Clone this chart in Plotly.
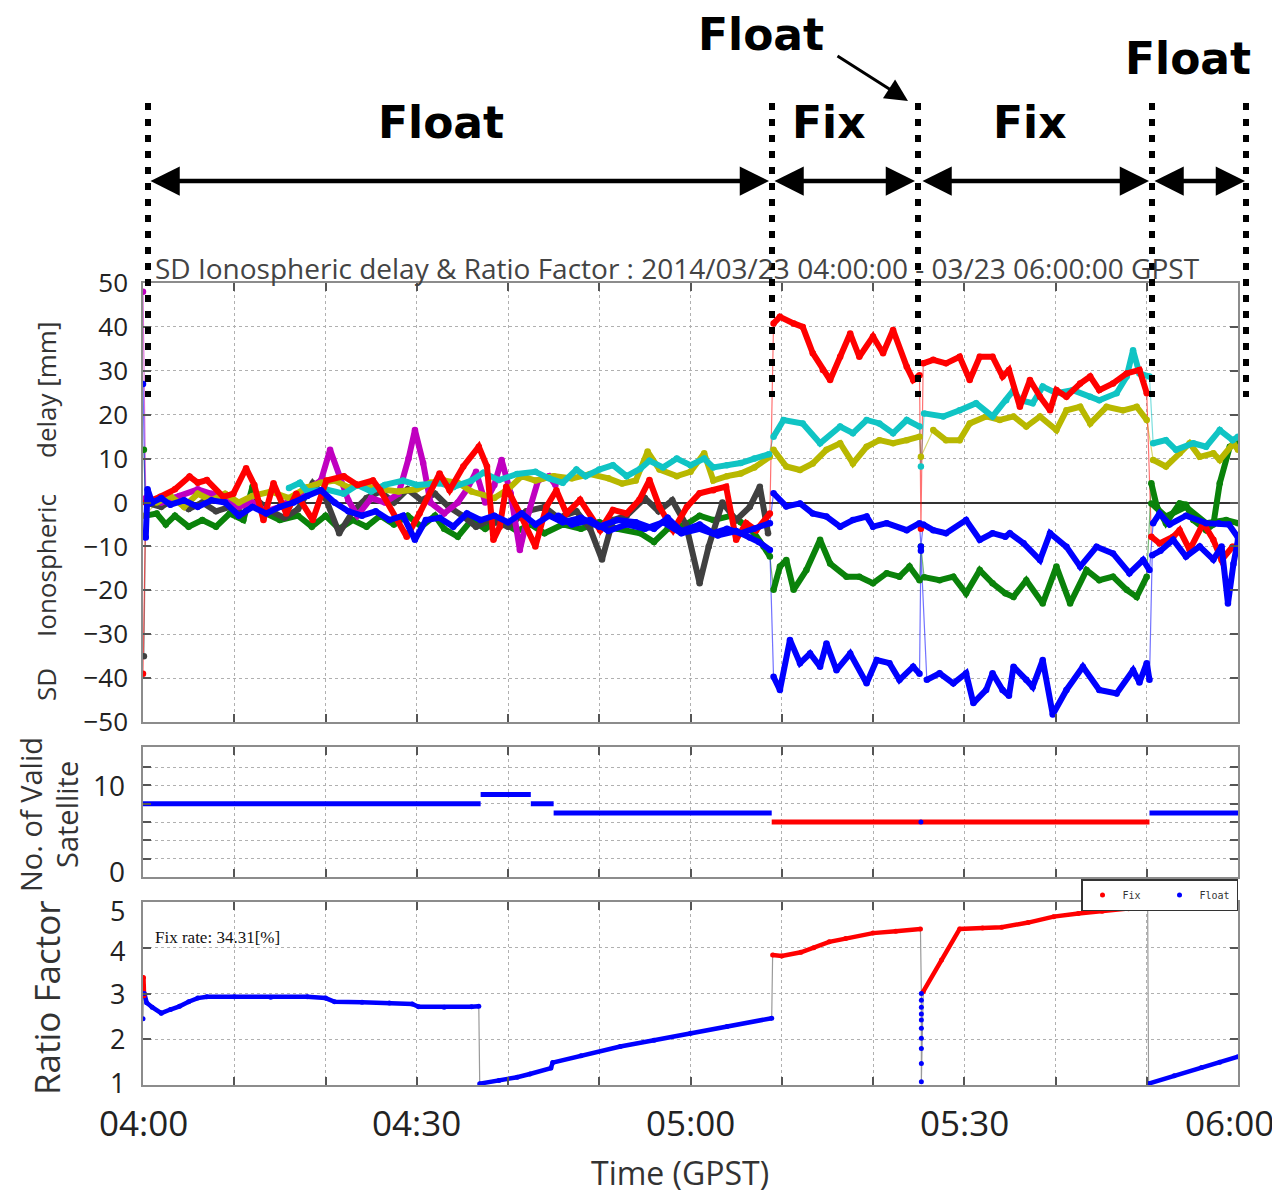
import plotly.graph_objects as go

# ---------------- data (time = minutes after 04:00 GPST) ----------------
RED_T = [0.0, 0.3, 1.9, 3.5, 5.1, 6.0, 7.0, 8.8, 9.9, 11.3, 12.2, 13.2, 14.3, 15.7, 16.8, 18.6, 20.1, 22.0, 23.5, 25.2,
         26.0, 28.9, 30.3, 32.5, 33.6, 35.1, 36.8, 37.7, 38.4, 39.1, 39.8, 41.3, 43.0, 44.2, 45.3, 46.4, 47.9, 50.1,
         51.5, 53.0, 54.4, 55.5, 56.6, 58.1, 59.6, 61.0, 62.5, 63.9, 65.0, 66.1, 67.2, 68.7,
         69.1, 69.8, 71.3, 72.3, 73.4, 74.5, 75.3, 76.4, 77.5, 78.5, 80.0, 81.1, 82.2, 83.7, 84.4, 85.1,
         85.25,
         85.5, 86.6, 88.0, 89.5, 90.6, 91.7, 93.1, 94.2, 94.9, 96.1, 97.2, 98.3, 99.4, 100.1, 101.2, 102.7, 103.8,
         104.8, 106.3, 107.8, 109.2, 110.0,
         110.5, 111.4, 112.9, 113.6, 114.7, 116.2, 117.3, 118.2, 119.4, 120.0]
RED_V = [-39, 0, 1.3, 3, 5.9, 4.5, 5.1, 1.3, 2, 7.8, 4, -4, 4.4, -2.5, 2, -4, 5, 6, 4, 5,
         2.8, -7.8, -2.5, 6.6, 2.8, 8.2, 12.7, 8.2, -8.5, -5.5, 3.6, -2.5, -10, -1, 2.8, -2.5, 0.6, -6.3,
         -1.7, -2.5, 0.6, 5.1, -1, -6.3, -1, 2.1, 2.8, 3.6, -8.5, -4.7, -6.3, -2.5,
         40.8, 42.3, 40.8, 40, 34, 30.2, 27.9, 33.2, 38.5, 33.2, 37.8, 34, 39.3, 30.9, 27.9, 29,
         -6,
         31.7, 32.5, 31.7, 33.2, 27.9, 33.2, 33.2, 28.7, 30.2, 21.8, 27.9, 24.1, 21, 25.6, 24.1, 27.1, 28.7,
         25.6, 27.1, 29.4, 30.2, 24.9,
         -7.8, -9.3, -7.8, -6.3, -10.8, -4.7, -8.5, -13.1, -10.1, -10.1]

CYAN_T = [16.0, 17.2, 18.0, 20.0, 22.0, 23.5, 25.0, 26.5, 28.5, 30.0, 32.5, 34.0, 36.0, 37.3, 39.0, 41.0, 43.0, 44.5,
          46.0, 47.5, 48.5, 50.0, 51.5, 53.0, 54.5, 55.5, 57.0, 58.5, 60.0, 61.5, 62.5, 64.0, 65.5, 67.0, 68.6,
          69.1, 70.2, 72.3, 74.2, 76.4, 77.8, 79.3, 80.7, 82.2, 83.7, 85.1,
          85.25,
          85.6, 87.7, 89.5, 91.3, 93.1, 94.6, 95.4, 96.1, 97.5, 98.6, 100.1, 101.9, 103.8, 104.8, 106.7, 107.8,
          108.5, 109.2, 110.3,
          110.7, 112.1, 113.2, 115.1, 116.5, 118.0, 119.4, 120.0]
CYAN_V = [3.3, 4.5, 2.5, 3, 2, 4, 2.5, 4, 5, 4, 4.4, 3.5, 5, 6.8, 5.1, 6.5, 7, 5.5,
          4.5, 7.5, 6, 7.5, 8.5, 6, 7.7, 9.5, 8, 10, 8.5, 10, 8, 8.5, 9, 10, 11,
          15, 18.8, 18, 13.5, 17.3, 15.8, 18.8, 18, 15.8, 18.8, 17.3,
          8.2,
          20.3, 19.6, 21, 22.6, 19.6, 23.3, 25.6, 23.3, 22.6, 26.4, 24.9, 25.6, 24.1, 23.3, 24.9, 28.7,
          34.7, 29.4, 28.7,
          13.5, 14.2, 12, 13.5, 12.7, 16.5, 14.2, 15]

YELLOW_T = [0.2, 1.5, 3.0, 4.5, 6.0, 7.5, 9.0, 10.5, 12.0, 14.0, 16.0, 18.0, 19.5, 21.0, 22.5, 24.0, 26.0, 28.0, 30.0,
            31.5, 33.0, 34.5, 36.0, 38.5, 40.0, 41.5, 43.0, 45.0, 47.0, 49.0, 51.0, 52.5, 54.0, 55.3, 56.6, 58.5,
            60.0, 61.5, 62.5, 64.0, 65.5, 67.0, 68.7,
            69.1, 70.5, 72.0, 73.4, 74.9, 76.4, 77.8, 79.3, 80.7, 82.2, 83.7, 85.1,
            85.25,
            86.6, 88.0, 89.5, 90.6, 92.4, 93.9, 95.4, 96.8, 98.3, 100.1, 101.2, 102.7, 103.8, 105.6, 107.4, 108.9, 110.0,
            110.7, 112.1, 113.6, 114.7, 115.8, 117.3, 118.0, 119.5, 120.0]
YELLOW_V = [-3, 0, 1.5, -1, 2, 0.5, 2, 0, 1.5, 2.5, 1, 3.5, 4.5, 5, 3.5, 4, 3, 2.5, 3,
            4.5, 5, 4.5, 2.5, 1, 3, 6, 5, 6, 5.5, 6.5, 5.5, 4.3, 5, 11.6, 7.5, 6,
            7, 11.2, 5, 6, 6.6, 8, 10.4,
            12, 8.2, 7.4, 8.9, 12, 13.5, 8.9, 12.7, 14.2, 13.5, 14.2, 15,
            10.4,
            16.5, 14.2, 14.2, 18, 19.6, 18.8, 19.6, 17.3, 19.6, 16.5, 21, 21.8, 18, 21.8, 21, 21.8, 18.8,
            9.7, 8.2, 11.2, 13.5, 10.4, 11.2, 9.7, 13.5, 12]

GREEN_T = [0.1, 0.3, 1.5, 2.5, 3.5, 5.0, 6.5, 8.0, 9.5, 11.0, 12.0, 13.0, 15.0, 17.0, 18.5, 20.0, 21.5, 23.0, 24.5,
           26.0, 27.5, 29.0, 30.5, 32.0, 33.0, 34.5, 36.0, 37.5, 39.0, 41.0, 42.5, 44.0, 46.0, 48.0, 50.0, 52.0,
           54.5, 56.0, 57.5, 59.5, 61.0, 62.5, 64.5, 65.5, 67.0, 68.0, 68.7,
           69.1, 69.8, 70.5, 71.3, 72.7, 74.2, 75.3, 77.1, 78.5, 80.0, 81.5, 82.9, 84.0, 85.1,
           85.25,
           85.6, 87.3, 88.8, 90.2, 91.7, 93.1, 94.5, 95.4, 96.8, 98.6, 100.1, 101.6, 103.4, 104.8, 106.3, 107.8,
           108.9, 110.0,
           110.5, 111.1, 112.1, 113.6, 114.3, 115.1, 116.5, 117.3, 118.0, 119.1, 119.8]
GREEN_V = [12, -3, -2.5, -5, -3, -5.5, -4, -5.5, -2.5, -4, 3.6, -2, -4, -3, -5.5, -3, -6, -4, -5.5,
           -3, -5, -3, -5.5, -3, -6, -7.8, -4, -6, -4, -6.5, -5, -7, -5, -6, -4.5, -6,
           -7, -9, -6, -5, -3, -4, -3, -4.5, -7, -10, -12.3,
           -19.9, -14.6, -13.1, -19.9, -15.4, -8.5, -13.9, -16.9, -16.9, -18.4, -16.1, -16.9, -14.6, -17.7,
           -10,
           -17, -17.7, -16.9, -20.7, -15.4, -18.4, -20.7, -21.5, -17.7, -23, -14.6, -23, -15.4, -17.7, -16.9, -19.9,
           -21.5, -16.9,
           4.4, -0.9, -4.7, -0.2, -0.5, -4, -6.3, -5, 4.4, 12.7, 13.5]

GREEN2_T = [110.5, 112.1, 114.3, 116.5, 118.7, 120.0]
GREEN2_V = [-0.2, -3.2, -1, -4.7, -4, -4.7]

GRAY_T = [0.1, 0.3, 2.0, 3.5, 5.0, 6.5, 8.0, 9.5, 11.0, 12.5, 14.0, 15.5, 17.0, 18.6, 20.0, 21.5, 23.0, 24.5, 26.0,
          27.5, 29.0, 30.5, 32.0, 33.5, 35.0, 36.5, 38.0, 40.0, 42.0, 44.0, 45.5, 47.5, 49.0, 50.3, 51.5, 53.0,
          55.0, 56.5, 58.0, 59.5, 61.0, 62.0, 63.5, 65.0, 66.5, 67.6, 68.5]
GRAY_V = [-35, 0, -1, 1, -1.5, 0, -2, -1, -2.5, 0.5, -2, -3.5, -1.5, 4.4, 1, -7, -2, 1, 2.5,
          0, 3, 0.5, 2, -1, -3, -5.5, -4, -5.5, -2, -1, -3.5, -2, -6, -13, -4, -3,
          1, -2, 0.5, -5, -18.4, -10, 0, -4, -1, 3.6, -7]

MAGENTA_T = [0.0, 0.3, 2.0, 4.0, 6.0, 7.5, 9.0, 10.5, 12.0, 13.5, 15.0, 16.5, 18.0, 19.5, 20.5, 21.5, 22.5, 23.5,
             25.0, 26.5, 28.0, 29.1, 29.8, 30.7, 31.5, 33.0, 34.5, 35.5, 36.5, 37.5, 38.5, 39.3, 40.3, 41.3, 42.3,
             43.3, 44.5, 45.2]
MAGENTA_V = [48, 1, 0, 1.5, 3, 2, 0.5, -1, 0, -2, -1, 1, 3, 5, 12, 6, 0.5, -3,
             1, 0, 2, 10, 16.5, 9, 0, -2.5, 0, 3, 7, 0, 4, 9.7, 2, -10.8, -2,
             5, 6, 4]

BLUE1_T = [0.0, 0.3, 0.5, 1.0, 2.0, 3.0, 4.5, 6.0, 7.5, 9.0, 10.5, 12.0, 13.5, 15.0, 16.5, 18.0, 19.5, 21.0, 22.5,
           24.0, 25.5, 27.0, 28.5, 29.8, 31.0, 32.5, 34.0, 35.5, 37.0, 38.5, 40.0, 41.5, 43.0, 44.5, 46.0, 48.0,
           50.0, 52.0, 54.0, 56.0, 57.5, 59.0, 61.0, 62.5, 64.0, 65.5, 67.0, 68.7,
           69.1, 70.5, 72.0, 73.4, 74.9, 76.4, 77.8, 79.3, 80.0, 81.5, 83.7, 85.1,
           85.25,
           85.5, 86.6, 88.0, 90.2, 91.7, 93.1, 94.5, 95.0, 96.5, 98.3, 99.4, 101.2, 102.7, 104.5, 106.3, 108.1,
           109.6, 110.3,
           110.7, 111.4, 112.5, 114.3, 116.5, 117.9, 119.0, 120.0]
BLUE1_V = [27, -8, 3, 0, 1, -0.5, 0.5, -1, 0.5, 0, -3, -1, -2.5, -1, 0, 1.5, 2.8, 0, -2,
           -3, -2, -4, -3, -8.5, -4, -3.5, -5.5, -2.5, -4, -3, -4.5, -2.5, -5, -3, -4.5, -3.5,
           -5.5, -4, -4.5, -6, -3.5, -6.5, -5, -7, -6, -7, -6, -4.7,
           2.1, -0.9, -0.2, -2.5, -3.2, -5.5, -4, -3.2, -5.5, -4.7, -6.3, -4.7,
           -10,
           -5, -6.3, -7, -4, -8.5, -7, -7.8, -7, -9.3, -13.1, -7, -10.1, -14.6, -10.1, -11.6, -16.1,
           -13.1, -15.4,
           -4.7, -2.5, -5, -3, -4.7, -4.7, -5, -8]

BLUE2_T = [45.5, 47.0, 49.0, 51.0, 53.0, 55.0, 57.0, 59.0, 61.0, 63.0, 65.0, 66.5, 67.5, 68.7,
           69.1, 69.8, 70.9, 72.0, 73.1, 74.2, 74.9, 76.0, 77.5, 79.3, 80.4, 81.8, 82.9, 84.4, 85.1,
           85.25,
           85.9, 87.3, 88.8, 90.2, 91.0, 92.4, 93.1, 94.2, 94.9, 95.4, 96.8, 97.5, 98.6, 99.7, 101.2, 103.0,
           104.8, 106.7, 108.5, 109.2, 110.0, 110.3,
           110.6, 111.5, 112.9, 114.3, 115.8, 117.3, 118.2, 118.9, 119.5, 120.0]
BLUE2_V = [-3, -5, -4, -6.5, -5, -6, -4.5, -7, -6, -7.5, -6.5, -8, -9, -10.8,
           -39.7, -42.7, -31.3, -36.6, -34.4, -37.4, -32.1, -38.2, -34.4, -41.2, -35.9, -36.6, -40.4, -37.4, -39,
           -11,
           -40.4, -38.9, -41.2, -38.9, -45.7, -42.7, -38.9, -42.7, -44, -37.4, -40.4, -42, -35.9, -48.3, -42.7, -37.4,
           -42.7, -43.5, -38.2, -41, -36.6, -40.4,
           -12, -11, -8.5, -12.3, -10, -13, -10, -23, -14, -8.5]

# number of valid satellites (step changes)
SAT_CHANGE_T = [0.0, 37.0, 42.5, 45.0, 68.9, 110.3]
SAT_COUNT = [8, 9, 8, 7, 6, 7]
SAT_MODE = ["Float", "Float", "Float", "Float", "Fix", "Float"]
SAT_END_T = 120.0
SAT_DOT_T = [85.25]
SAT_DOT_N = [6]

# ratio factor
RATIO_FLOAT_T = [0.0, 0.15, 0.4, 1.0, 2.0, 3.0, 4.0, 5.0, 6.0, 7.0, 10.0, 14.0, 18.0, 20.0, 21.0, 24.0, 27.0,
                 29.5, 30.2, 33.0, 36.0, 36.8,
                 36.9, 39.0, 41.0, 42.4, 44.7, 44.9, 48.0, 52.3, 56.0, 60.0, 64.0, 68.9,
                 110.2, 113.0, 116.0, 118.0, 120.0]
RATIO_FLOAT_V = [2.45, 3.0, 2.8, 2.7, 2.57, 2.65, 2.72, 2.82, 2.9, 2.93, 2.93, 2.92, 2.93, 2.9, 2.82, 2.81, 2.79,
                 2.77, 2.71, 2.70, 2.71, 2.72,
                 1.03, 1.1, 1.17, 1.24, 1.37, 1.49, 1.64, 1.84, 1.98, 2.13, 2.28, 2.46,
                 1.03, 1.2, 1.38, 1.5, 1.62]
RATIO_DOTS_T = [85.3, 85.3, 85.3, 85.3, 85.3, 85.3, 85.3, 85.3, 85.3, 85.3]
RATIO_DOTS_V = [3.0, 2.85, 2.7, 2.55, 2.42, 2.24, 2.02, 1.8, 1.47, 1.07]
RATIO_FIX_T = [0.05, 0.12,
               69.0, 70.0, 72.1, 73.5, 75.2, 77.0, 80.0, 82.5, 85.2,
               85.5, 87.5, 89.5, 92.0, 94.1, 97.0, 99.8, 102.5, 105.1, 108.0, 110.1]
RATIO_FIX_V = [3.35, 2.95,
               3.84, 3.82, 3.9, 4.0, 4.13, 4.2, 4.32, 4.36, 4.41,
               3.04, 3.73, 4.41, 4.43, 4.45, 4.55, 4.68, 4.75, 4.8, 4.85, 4.9]

X_TICK_VALS = [0, 10, 20, 30, 40, 50, 60, 70, 80, 90, 100, 110, 120]
X_LABELS = [(0, "04:00", 0), (30, "04:30", 0), (60, "05:00", 0), (90, "05:30", 0), (120, "06:00", -9)]
Y1_TICKS = [-50, -40, -30, -20, -10, 0, 10, 20, 30, 40, 50]
Y2_TICKS = [0, 2, 4, 6, 8, 10, 12]
Y2_LABELS = [(10, "10", 0), (0, "0", 6)]          # (value, text, pixel nudge up)
Y3_TICKS = [1, 2, 3, 4, 5]
Y3_LABELS = [(5, "5", -8), (4, "4", -3), (3, "3", 0), (2, "2", 1), (1, "1", 3)]

# ---------------- layout helpers ----------------
# the page body has an 8 px margin, so the figure is placed 8 px in from the window corner
OFF = 8
W, H = 1280 - OFF, 1193 - OFF
ML, MR, MT, MB = 143 - OFF, 42, 283 - OFF, 108
PW, PH = W - ML - MR, H - MT - MB


def px2x(px):          # window pixel -> paper x
    return (px - OFF - ML) / PW


def py2y(py):          # window pixel -> paper y
    return (H - MB - (py - OFF)) / PH


PHASE_EDGES = [0.25, 68.9, 85.2, 85.3, 110.4]


def phase_of(t):
    return sum(1 for e in PHASE_EDGES if t >= e)


def split_by_phase(ts, vs):
    xs, ys, prev = [], [], None
    for t, v in zip(ts, vs):
        p = phase_of(t)
        if prev is not None and p != prev:
            xs.append(None)
            ys.append(None)
        xs.append(t)
        ys.append(v)
        prev = p
    return xs, ys


def split_ratio(ts, vs):
    xs, ys = [], []
    for i, (t, v) in enumerate(zip(ts, vs)):
        if i > 0:
            dt = t - ts[i - 1]
            dv = abs(v - vs[i - 1])
            if dt > 12 or (dv > 0.5 and dt < 0.5):
                xs.append(None)
                ys.append(None)
        xs.append(t)
        ys.append(v)
    return xs, ys


RED, CYAN, YEL, GRN, GRY, MAG, BLU = "#ff0000", "#10c4c4", "#b8b800", "#0a820a", "#404040", "#c000c0", "#0000ff"
SERIES = [
    (GREEN_T, GREEN_V, GRN), (GREEN2_T, GREEN2_V, GRN), (GRAY_T, GRAY_V, GRY), (MAGENTA_T, MAGENTA_V, MAG),
    (YELLOW_T, YELLOW_V, YEL), (CYAN_T, CYAN_V, CYAN), (RED_T, RED_V, RED),
    (BLUE2_T, BLUE2_V, BLU), (BLUE1_T, BLUE1_V, BLU),
]

fig = go.Figure()

# top panel: thin connector lines then thick lines per solution phase
for ts, vs, c in SERIES:
    fig.add_trace(go.Scatter(x=ts, y=vs, mode="lines", line=dict(color=c, width=1.2), opacity=0.55,
                             showlegend=False, hoverinfo="skip", xaxis="x", yaxis="y"))
for ts, vs, c in SERIES:
    xs, ys = split_by_phase(ts, vs)
    fig.add_trace(go.Scatter(x=xs, y=ys, mode="lines+markers", line=dict(color=c, width=6),
                             marker=dict(color=c, size=6.5), showlegend=False, xaxis="x", yaxis="y"))

# satellites panel
sat_seg = {"Fix": ([], []), "Float": ([], [])}
ends = SAT_CHANGE_T[1:] + [SAT_END_T]
for t0, t1, n, m in zip(SAT_CHANGE_T, ends, SAT_COUNT, SAT_MODE):
    sx, sy = sat_seg[m]
    sx += [t0, t1, None]
    sy += [n, n, None]
for m, c in (("Float", BLU), ("Fix", RED)):
    fig.add_trace(go.Scatter(x=sat_seg[m][0], y=sat_seg[m][1], mode="lines", line=dict(color=c, width=5),
                             showlegend=False, xaxis="x2", yaxis="y2"))
fig.add_trace(go.Scatter(x=SAT_DOT_T, y=SAT_DOT_N, mode="markers", marker=dict(color=BLU, size=5),
                         showlegend=False, xaxis="x2", yaxis="y2"))

# ratio panel: gray connector through all epochs in time order
allpts = sorted(list(zip(RATIO_FLOAT_T, RATIO_FLOAT_V)) + list(zip(RATIO_FIX_T, RATIO_FIX_V))
                + list(zip(RATIO_DOTS_T, RATIO_DOTS_V)), key=lambda p: (p[0], -p[1]))
fig.add_trace(go.Scatter(x=[p[0] for p in allpts], y=[p[1] for p in allpts], mode="lines",
                         line=dict(color="#9a9a9a", width=1.2), showlegend=False, xaxis="x3", yaxis="y3"))
for ts, vs, c in ((RATIO_FLOAT_T, RATIO_FLOAT_V, BLU), (RATIO_FIX_T, RATIO_FIX_V, RED)):
    xs, ys = split_ratio(ts, vs)
    fig.add_trace(go.Scatter(x=xs, y=ys, mode="lines", line=dict(color=c, width=4.5),
                             showlegend=False, xaxis="x3", yaxis="y3"))
fig.add_trace(go.Scatter(x=RATIO_FIX_T, y=RATIO_FIX_V, mode="markers", name="Fix",
                         marker=dict(color=RED, size=5), xaxis="x3", yaxis="y3"))
fig.add_trace(go.Scatter(x=RATIO_FLOAT_T + RATIO_DOTS_T, y=RATIO_FLOAT_V + RATIO_DOTS_V, mode="markers",
                         name="Float", marker=dict(color=BLU, size=5), xaxis="x3", yaxis="y3"))

TICKFONT = dict(family="Open Sans", size=26, color="#222")
xcommon = dict(range=[0, 120], tickvals=X_TICK_VALS, showgrid=True, gridcolor="#b0b0b0", griddash="dot",
               gridwidth=1, ticks="inside", ticklen=8, tickwidth=1.5, tickcolor="#555", showline=True,
               linecolor="#8c8c8c", linewidth=1.5, mirror="ticks", zeroline=False, showticklabels=False)
ycommon = dict(showgrid=True, gridcolor="#b0b0b0", griddash="dot", gridwidth=1, ticks="inside", ticklen=8,
               tickwidth=1.5, tickcolor="#555", showline=True, linecolor="#8c8c8c", linewidth=1.5,
               mirror="ticks", tickfont=TICKFONT, ticklabelstandoff=8)

layout = dict(
    width=W, height=H, margin=dict(l=ML, r=MR, t=MT, b=MB),
    paper_bgcolor="white", plot_bgcolor="white",
    xaxis=dict(xcommon, anchor="y"),
    xaxis2=dict(xcommon, anchor="y2", matches="x"),
    xaxis3=dict(xcommon, anchor="y3", matches="x"),
    yaxis=dict(ycommon, domain=[py2y(722), 1.0], range=[-50, 50], tickvals=Y1_TICKS,
               zeroline=True, zerolinecolor="#333", zerolinewidth=1.5),
    yaxis2=dict(ycommon, domain=[py2y(877), py2y(747)], range=[0, 14.2], tickvals=Y2_TICKS,
                showticklabels=False, zeroline=False),
    yaxis3=dict(ycommon, domain=[0.0, py2y(902)], range=[1, 5], tickvals=Y3_TICKS, showticklabels=False,
                zeroline=False),
    showlegend=True,
    legend=dict(x=1.0, xanchor="right", y=py2y(879), yanchor="top", orientation="h",
                bgcolor="white", bordercolor="#333", borderwidth=1.5,
                font=dict(family="DejaVu Sans Mono", size=10, color="#333"),
                itemwidth=30, entrywidth=32, entrywidthmode="pixels", tracegroupgap=0,
                itemclick=False),
)
fig.update_layout(**layout)

ann = []
shapes = []
# time tick labels (last one pulled inside the page like the reference)
for v, txt, dx in X_LABELS:
    ann.append(dict(text=txt, xref="x3", yref="paper", x=v, xshift=dx, y=py2y(1122), xanchor="center",
                    yanchor="middle", showarrow=False, font=dict(family="Open Sans", size=35, color="#222")))
# tick labels of the two lower panels (placed like the reference)
for v, txt, dy in Y2_LABELS:
    ann.append(dict(text=txt, xref="paper", yref="y2", x=px2x(127), y=v, yshift=dy, xanchor="right",
                    yanchor="middle", showarrow=False, font=dict(family="Open Sans", size=28, color="#222")))
for v, txt, dy in Y3_LABELS:
    ann.append(dict(text=txt, xref="paper", yref="y3", x=px2x(127), y=v, yshift=dy, xanchor="right",
                    yanchor="middle", showarrow=False, font=dict(family="Open Sans", size=27, color="#222")))
# title
ann.append(dict(text="SD Ionospheric delay & Ratio Factor : 2014/03/23 04:00:00 - 03/23 06:00:00 GPST",
                xref="paper", yref="paper", x=px2x(153), y=py2y(268), xanchor="left", yanchor="middle",
                showarrow=False, font=dict(family="Open Sans", size=28, color="#444")))
# y-axis titles
ytitle = dict(xref="paper", yref="paper", showarrow=False, textangle=-90, xanchor="center", yanchor="middle")
ann.append(dict(ytitle, text="delay [mm]", x=px2x(46), y=py2y(390), font=dict(family="Open Sans", size=26, color="#333")))
ann.append(dict(ytitle, text="Ionospheric", x=px2x(46), y=py2y(566), font=dict(family="Open Sans", size=26, color="#333")))
ann.append(dict(ytitle, text="SD", x=px2x(46), y=py2y(685), font=dict(family="Open Sans", size=26, color="#333")))
ann.append(dict(ytitle, text="No. of Valid", x=px2x(30), y=py2y(815), font=dict(family="Open Sans", size=29, color="#333")))
ann.append(dict(ytitle, text="Satellite", x=px2x(66), y=py2y(815), font=dict(family="Open Sans", size=29, color="#333")))
ann.append(dict(ytitle, text="Ratio Factor", x=px2x(46), y=py2y(998), font=dict(family="Open Sans", size=35, color="#333")))
ann.append(dict(text="Time (GPST)", xref="paper", yref="paper", x=px2x(680), y=py2y(1172), showarrow=False,
                xanchor="center", yanchor="middle", font=dict(family="Open Sans", size=32, color="#333")))
ann.append(dict(text="Fix rate: 34.31[%]", xref="paper", yref="paper", x=px2x(153), y=py2y(937), showarrow=False,
                xanchor="left", yanchor="middle", font=dict(family="Liberation Serif", size=17, color="#111")))

# mode labels
BIG = dict(family="DejaVu Sans", size=44, color="black", weight="bold")
for txt, cx, cy in (("Float", 441, 122), ("Fix", 829, 122), ("Fix", 1030, 122), ("Float", 761, 35), ("Float", 1188, 58)):
    ann.append(dict(text=txt, xref="paper", yref="paper", x=px2x(cx), y=py2y(cy), showarrow=False,
                    xanchor="center", yanchor="middle", font=BIG))

# double-headed arrows
for x0, x1 in ((149, 769), (773, 915), (921, 1149), (1153, 1245)):
    ann.append(dict(text="", xref="paper", yref="paper", x=px2x(x1), y=py2y(181), ax=-(x1 - x0), ay=0,
                    axref="pixel", ayref="pixel", showarrow=True, arrowside="end+start", arrowhead=2,
                    startarrowhead=2, arrowsize=1.3, startarrowsize=1.3, arrowwidth=4.5, arrowcolor="black",
                    standoff=0, startstandoff=0))
# pointer arrow
ann.append(dict(text="", xref="paper", yref="paper", x=px2x(908), y=py2y(101), ax=-72, ay=-46,
                axref="pixel", ayref="pixel", showarrow=True, arrowhead=2, arrowsize=1.5, arrowwidth=3,
                arrowcolor="black", standoff=0))

# dotted vertical separators
for px in (148, 772, 918, 1152, 1246):
    shapes.append(dict(type="line", xref="paper", yref="paper", x0=px2x(px), x1=px2x(px),
                       y0=py2y(103), y1=py2y(397), line=dict(color="black", width=6, dash="7px,9px")))

fig.update_layout(annotations=ann, shapes=shapes)
fig.write_html("out.html")
